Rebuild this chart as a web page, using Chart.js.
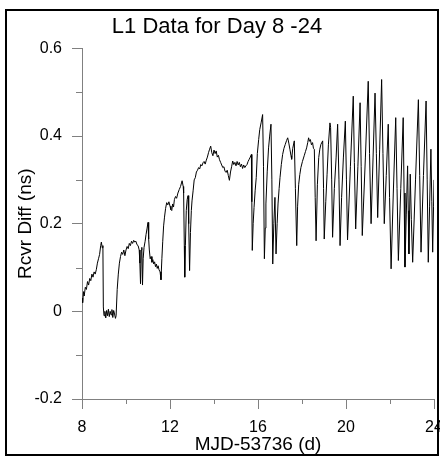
<!DOCTYPE html>
<html>
<head>
<meta charset="utf-8">
<script src="https://cdn.jsdelivr.net/npm/chart.js@4"></script>
<style>
  body { margin: 0; background: #fff; }
  #wrap { position: relative; width: 440px; height: 456px; overflow: hidden; }
  #frame { position: absolute; left: 5px; top: 9px; width: 434px; height: 447px;
           box-sizing: border-box; border: 2px solid #000; pointer-events: none; }
</style>
</head>
<body>
<div id="wrap">
  <canvas id="canvas" width="440" height="456"></canvas>
  <div id="frame"></div>
</div>
<script>
// day offset (MJD-53736) and receiver difference in ns
const days = [
  8.00, 8.03, 8.07, 8.10, 8.15, 8.20, 8.25, 8.30, 8.35, 8.40, 8.45, 8.50, 8.55, 8.60, 8.65, 8.70, 8.75, 8.80, 8.85, 8.88, 8.92, 8.95,
  8.97, 9.00, 9.04, 9.08, 9.12, 9.16, 9.20, 9.24, 9.28, 9.32, 9.36, 9.40, 9.44, 9.48, 9.52, 9.55,
  9.60, 9.65, 9.70, 9.75, 9.80, 9.85, 9.90, 9.95, 10.00, 10.05, 10.10, 10.15, 10.20, 10.25, 10.30, 10.35, 10.40, 10.45, 10.50, 10.55, 10.60,
  10.63, 10.66, 10.69, 10.72, 10.75, 10.78, 10.82, 10.87, 10.91, 10.96, 11.00, 11.03, 11.06, 11.10, 11.14, 11.18, 11.22, 11.26, 11.30,
  11.34, 11.38, 11.42, 11.46, 11.50, 11.55, 11.59, 11.63, 11.67, 11.71, 11.75, 11.80, 11.85, 11.90, 11.95, 12.00, 12.04, 12.08, 12.12,
  12.16, 12.20, 12.25, 12.30, 12.36, 12.42, 12.48, 12.55, 12.60, 12.62, 12.65, 12.67, 12.70, 12.74, 12.78, 12.82, 12.85, 12.89, 12.93,
  12.97, 13.00, 13.05, 13.10, 13.15, 13.20, 13.25, 13.30, 13.35, 13.40, 13.45, 13.50, 13.55, 13.60, 13.65, 13.70, 13.75, 13.80, 13.85,
  13.90, 13.95, 14.00, 14.05, 14.10, 14.15, 14.20, 14.25, 14.30, 14.35, 14.40, 14.45, 14.50, 14.55, 14.60, 14.65, 14.70, 14.75, 14.80,
  14.85, 14.90, 14.95, 15.00, 15.05, 15.10, 15.15, 15.20, 15.25, 15.30, 15.35, 15.40, 15.45, 15.50, 15.55, 15.60, 15.65, 15.70,
  15.72, 15.74, 15.78, 15.82, 15.87, 15.92, 15.97, 16.03, 16.08, 16.14, 16.21, 16.25, 16.29, 16.33, 16.36, 16.42, 16.48, 16.53, 16.59,
  16.63, 16.67, 16.72, 16.77, 16.82, 16.87, 16.91, 16.96, 17.00, 17.06, 17.12, 17.18, 17.24, 17.30, 17.35, 17.40, 17.45, 17.50, 17.53,
  17.58, 17.65, 17.70, 17.76, 17.80, 17.85, 17.90, 17.95, 18.02, 18.10, 18.16, 18.21, 18.26, 18.30, 18.34, 18.38, 18.43, 18.48, 18.52,
  18.56, 18.60, 18.64, 18.70, 18.76, 18.81, 18.86, 18.94, 18.98, 19.01, 19.08, 19.14, 19.20, 19.27, 19.30, 19.35, 19.39, 19.47, 19.55,
  19.62, 19.68, 19.73, 19.80, 19.88, 19.97, 20.02, 20.07, 20.20, 20.33, 20.38, 20.44, 20.54, 20.64, 20.69, 20.74, 20.88, 21.01, 21.07,
  21.14, 21.23, 21.32, 21.38, 21.44, 21.53, 21.62, 21.68, 21.74, 21.83, 21.92, 21.98, 22.05, 22.15, 22.26, 22.32, 22.38, 22.49, 22.60,
  22.64, 22.68, 22.74, 22.80, 22.83, 22.86, 22.89, 22.92, 22.97, 23.03, 23.16, 23.29, 23.35, 23.41, 23.52, 23.64, 23.69, 23.74, 23.80,
  23.86, 23.90, 23.94, 23.98, 24.00
];
const rcvrDiff = [
  0.030, 0.020, 0.045, 0.035, 0.055, 0.050, 0.068, 0.060, 0.075, 0.070, 0.085, 0.078, 0.090, 0.085, 0.095, 0.110, 0.120, 0.130, 0.150, 0.158, 0.145, 0.150,
  0.010, -0.010, 0.000, -0.015, 0.002, -0.010, 0.005, -0.012, 0.000, -0.008, 0.004, -0.014, 0.002, -0.006, -0.016, -0.010,
  0.050, 0.085, 0.110, 0.125, 0.135, 0.130, 0.140, 0.127, 0.140, 0.148, 0.143, 0.155, 0.150, 0.160, 0.155, 0.162, 0.158, 0.160, 0.152, 0.150, 0.140,
  0.110, 0.063, 0.140, 0.146, 0.060, 0.120, 0.146, 0.160, 0.175, 0.190, 0.203, 0.165, 0.140, 0.120, 0.125, 0.112, 0.118, 0.108, 0.113,
  0.102, 0.108, 0.098, 0.104, 0.095, 0.090, 0.072, 0.120, 0.160, 0.195, 0.215, 0.235, 0.248, 0.243, 0.250, 0.240, 0.232, 0.230, 0.245,
  0.238, 0.255, 0.262, 0.258, 0.270, 0.278, 0.285, 0.298, 0.285, 0.270, 0.150, 0.078, 0.150, 0.230, 0.255, 0.264, 0.200, 0.093, 0.180,
  0.230, 0.252, 0.275, 0.300, 0.305, 0.318, 0.322, 0.328, 0.325, 0.335, 0.332, 0.339, 0.342, 0.336, 0.345, 0.352, 0.362, 0.370, 0.377,
  0.362, 0.355, 0.368, 0.360, 0.366, 0.352, 0.356, 0.346, 0.340, 0.334, 0.328, 0.330, 0.320, 0.317, 0.322, 0.310, 0.299, 0.318, 0.330,
  0.343, 0.335, 0.340, 0.332, 0.342, 0.334, 0.340, 0.330, 0.336, 0.326, 0.334, 0.328, 0.332, 0.335, 0.342, 0.347, 0.352, 0.358,
  0.250, 0.139, 0.200, 0.237, 0.275, 0.305, 0.360, 0.392, 0.415, 0.430, 0.449, 0.330, 0.120, 0.190, 0.245, 0.320, 0.373, 0.400, 0.427,
  0.300, 0.108, 0.200, 0.260, 0.131, 0.200, 0.245, 0.280, 0.305, 0.335, 0.358, 0.372, 0.381, 0.390, 0.396, 0.384, 0.370, 0.355, 0.347,
  0.372, 0.389, 0.280, 0.150, 0.240, 0.290, 0.312, 0.328, 0.342, 0.355, 0.365, 0.373, 0.385, 0.396, 0.388, 0.392, 0.380, 0.385, 0.372,
  0.370, 0.260, 0.161, 0.290, 0.351, 0.370, 0.381, 0.389, 0.280, 0.165, 0.250, 0.313, 0.380, 0.430, 0.420, 0.300, 0.169, 0.280, 0.350,
  0.427, 0.300, 0.150, 0.260, 0.350, 0.434, 0.300, 0.163, 0.330, 0.491, 0.340, 0.188, 0.330, 0.476, 0.330, 0.173, 0.350, 0.525, 0.360,
  0.200, 0.350, 0.498, 0.360, 0.214, 0.370, 0.529, 0.360, 0.200, 0.310, 0.427, 0.260, 0.097, 0.270, 0.442, 0.280, 0.116, 0.280, 0.442,
  0.270, 0.101, 0.220, 0.332, 0.230, 0.131, 0.220, 0.313, 0.210, 0.112, 0.300, 0.483, 0.310, 0.135, 0.310, 0.480, 0.300, 0.112, 0.240,
  0.370, 0.250, 0.135, 0.240, 0.300
];

// unlabelled minor tick positions
const xMinor = [10, 14, 18, 22];
const yMinor = [-0.1, 0.1, 0.3, 0.5];

const font = 'Liberation Sans, Arial, sans-serif';
const axisGray = '#808080';

const minorTicks = {
  id: 'minorTicks',
  afterDraw(chart) {
    const {ctx, scales: {x, y}} = chart;
    ctx.save();
    ctx.strokeStyle = axisGray;
    ctx.lineWidth = 1;
    ctx.beginPath();
    xMinor.forEach(v => {
      const px = Math.round(x.getPixelForValue(v)) + 0.5;
      ctx.moveTo(px, y.bottom);
      ctx.lineTo(px, y.bottom + 5);
    });
    yMinor.forEach(v => {
      const py = Math.round(y.getPixelForValue(v)) + 0.5;
      ctx.moveTo(x.left - 6, py);
      ctx.lineTo(x.left, py);
    });
    ctx.stroke();
    ctx.restore();
  }
};

window.onload = () => {
  const ctx = document.getElementById('canvas').getContext('2d');
  window.myLine = new Chart(ctx, {
    type: 'line',
    data: {
      datasets: [{
        data: days.map((d, i) => ({x: d, y: rcvrDiff[i]})),
        borderColor: '#000',
        borderWidth: 1,
        pointRadius: 0,
        tension: 0,
        fill: false
      }]
    },
    options: {
      responsive: false,
      animation: false,
      devicePixelRatio: 1,
      layout: {padding: {left: 0, right: 6, top: 0, bottom: 0}},
      plugins: {
        legend: {display: false},
        tooltip: {enabled: false},
        title: {
          display: true,
          text: 'L1 Data for Day 8 -24',
          color: '#000',
          font: {family: font, size: 22, weight: 'normal'},
          padding: {top: 14, bottom: 8}
        }
      },
      scales: {
        x: {
          type: 'linear',
          min: 8,
          max: 24,
          ticks: {stepSize: 4, color: '#000', font: {family: font, size: 16}, padding: 9, maxRotation: 0},
          grid: {drawOnChartArea: false, color: axisGray, tickLength: 10},
          border: {color: axisGray},
          title: {display: true, text: 'MJD-53736 (d)', color: '#000',
                  font: {family: font, size: 19}, padding: {top: 0, bottom: 0}},
          afterFit: s => { s.height = 57; s.paddingLeft = 0; s.paddingRight = 0; }
        },
        y: {
          min: -0.2,
          max: 0.6,
          ticks: {stepSize: 0.2, color: '#000', font: {family: font, size: 16}, padding: 10,
                  callback: v => String(Math.round(v * 10) / 10 || 0)},
          grid: {drawOnChartArea: false, color: axisGray, tickLength: 10},
          border: {color: axisGray},
          title: {display: true, text: 'Rcvr Diff (ns)', color: '#000',
                  font: {family: font, size: 19}, padding: {top: 14, bottom: 0}},
          afterFit: s => { s.width = 82; s.paddingTop = 0; s.paddingBottom = 0; }
        }
      }
    },
    plugins: [minorTicks]
  });
};
</script>
</body>
</html>
